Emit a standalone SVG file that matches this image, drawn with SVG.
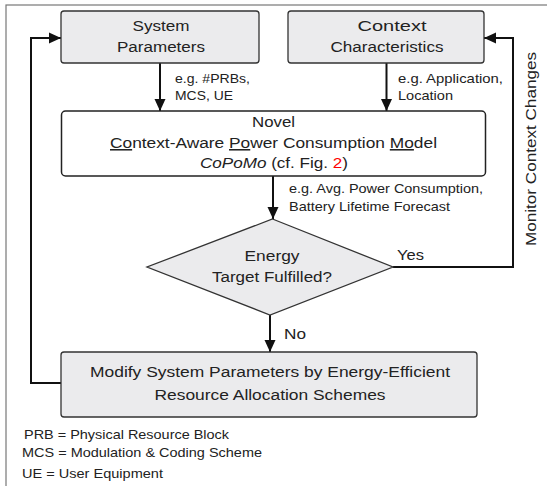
<svg xmlns="http://www.w3.org/2000/svg" width="547" height="486" viewBox="0 0 547 486">
  <style>
    text { font-family: "Liberation Sans", Arial, Helvetica, sans-serif; fill: #222; }
    .t { font-size: 15.5px; text-anchor: middle; }
    .lbl { font-size: 13px; }
    .leg { font-size: 13px; }
    .box { fill: #ebebed; stroke: #333; stroke-width: 1.3; }
    .wbox { fill: #fff; stroke: #222; stroke-width: 1.5; }
    .edge { fill: none; stroke: #111; stroke-width: 2; }
    .u { text-decoration: underline; }
  </style>
  <defs>
    <marker id="arrow" markerUnits="userSpaceOnUse" markerWidth="13" markerHeight="12" refX="12" refY="6" orient="auto">
      <path d="M0,0.5 L12,6 L0,11.5 z" fill="#111"/>
    </marker>
  </defs>

  <rect x="6" y="5" width="580" height="520" fill="none" stroke="#777" stroke-width="1.2"/>

  <g id="connectors">
    <line class="edge" x1="160" y1="63" x2="160" y2="111" marker-end="url(#arrow)"/>
    <line class="edge" x1="386.5" y1="63" x2="386.5" y2="111" marker-end="url(#arrow)"/>
    <line class="edge" x1="273" y1="176" x2="273" y2="219" marker-end="url(#arrow)"/>
    <line class="edge" x1="270" y1="315" x2="270" y2="352" marker-end="url(#arrow)"/>
    <polyline class="edge" points="393,267 513,267 513,38 484,38" marker-end="url(#arrow)"/>
    <polyline class="edge" points="61,383 31,383 31,38 61,38" marker-end="url(#arrow)"/>
    <text class="lbl" x="175" y="83" textLength="75" lengthAdjust="spacingAndGlyphs">e.g. #PRBs,</text>
    <text class="lbl" x="175" y="100" textLength="58" lengthAdjust="spacingAndGlyphs">MCS, UE</text>
    <text class="lbl" x="398" y="83" textLength="105" lengthAdjust="spacingAndGlyphs">e.g. Application,</text>
    <text class="lbl" x="398" y="100" textLength="55" lengthAdjust="spacingAndGlyphs">Location</text>
    <text class="lbl" x="289" y="193" textLength="194" lengthAdjust="spacingAndGlyphs">e.g. Avg. Power Consumption,</text>
    <text class="lbl" x="289" y="211" textLength="161" lengthAdjust="spacingAndGlyphs">Battery Lifetime Forecast</text>
    <text class="t" x="410.5" y="260" textLength="27" lengthAdjust="spacingAndGlyphs">Yes</text>
    <text class="t" x="295" y="339" textLength="22" lengthAdjust="spacingAndGlyphs">No</text>
    <text class="t" transform="translate(536,149) rotate(-90)" x="0" y="0" textLength="194" lengthAdjust="spacingAndGlyphs">Monitor Context Changes</text>
  </g>

  <g id="system-parameters">
    <rect class="box" x="61" y="11" width="198" height="52" rx="3"/>
    <text class="t" x="161" y="31" textLength="57" lengthAdjust="spacingAndGlyphs">System</text>
    <text class="t" x="161" y="52" textLength="88" lengthAdjust="spacingAndGlyphs">Parameters</text>
  </g>

  <g id="context-characteristics">
    <rect class="box" x="288" y="11" width="196" height="52" rx="3"/>
    <text class="t" x="392" y="31" textLength="69" lengthAdjust="spacingAndGlyphs">Context</text>
    <text class="t" x="387" y="52" textLength="113" lengthAdjust="spacingAndGlyphs">Characteristics</text>
  </g>

  <g id="copomo">
    <rect class="wbox" x="61.5" y="111" width="424" height="65" rx="4"/>
    <text class="t" x="273.5" y="127" textLength="43" lengthAdjust="spacingAndGlyphs">Novel</text>
    <text class="t" x="273.5" y="148" textLength="327" lengthAdjust="spacingAndGlyphs"><tspan class="u">Co</tspan>ntext-Aware <tspan class="u">Po</tspan>wer Consumption <tspan class="u">Mo</tspan>del</text>
    <text class="t" x="274" y="168" textLength="148" lengthAdjust="spacingAndGlyphs"><tspan font-style="italic">CoPoMo</tspan> (cf. Fig. <tspan fill="#ff0000">2</tspan>)</text>
  </g>

  <g id="energy-target">
    <polygon class="box" points="272.5,219 393,267 270,315 147,267"/>
    <text class="t" x="272" y="261" textLength="55" lengthAdjust="spacingAndGlyphs">Energy</text>
    <text class="t" x="272" y="282" textLength="120" lengthAdjust="spacingAndGlyphs">Target Fulfilled?</text>
  </g>

  <g id="modify-parameters">
    <rect class="box" x="61" y="352" width="416" height="65" rx="3"/>
    <text class="t" x="270" y="377" textLength="360" lengthAdjust="spacingAndGlyphs">Modify System Parameters by Energy-Efficient</text>
    <text class="t" x="270" y="400" textLength="231" lengthAdjust="spacingAndGlyphs">Resource Allocation Schemes</text>
  </g>

  <g id="legend">
    <text class="leg" x="24" y="439" textLength="205" lengthAdjust="spacingAndGlyphs">PRB = Physical Resource Block</text>
    <text class="leg" x="22" y="457" textLength="240" lengthAdjust="spacingAndGlyphs">MCS = Modulation &amp; Coding Scheme</text>
    <text class="leg" x="22" y="478" textLength="141" lengthAdjust="spacingAndGlyphs">UE = User Equipment</text>
  </g>
</svg>
